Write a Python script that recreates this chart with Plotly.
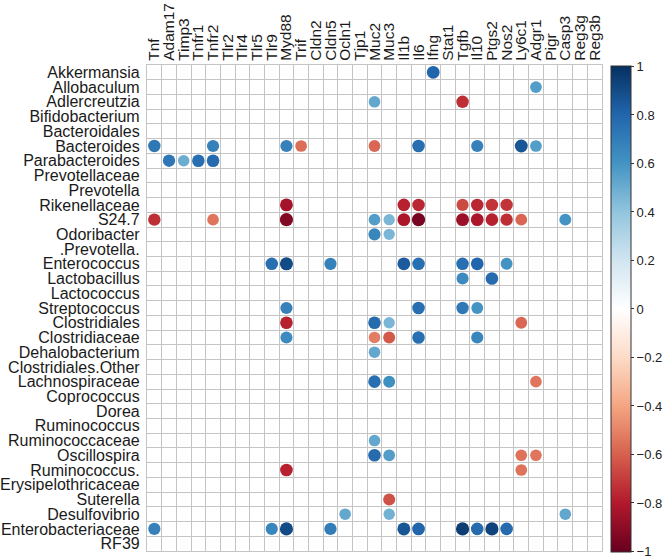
import plotly.graph_objects as go

genes = ["Tnf", "Adam17", "Timp3", "Tnfr1", "Tnfr2", "Tlr2", "Tlr4", "Tlr5", "Tlr9", "Myd88",
         "Trif", "Cldn2", "Cldn5", "Ocln1", "Tjp1", "Muc2", "Muc3", "Il1b", "Il6", "Ifng",
         "Stat1", "Tgfb", "Il10", "Ptgs2", "Nos2", "Ly6c1", "Adgr1", "Pigr", "Casp3", "Reg3g", "Reg3b"]

taxa = ["Akkermansia", "Allobaculum", "Adlercreutzia", "Bifidobacterium", "Bacteroidales",
        "Bacteroides", "Parabacteroides", "Prevotellaceae", "Prevotella", "Rikenellaceae",
        "S24.7", "Odoribacter", ".Prevotella.", "Enterococcus", "Lactobacillus", "Lactococcus",
        "Streptococcus", "Clostridiales", "Clostridiaceae", "Dehalobacterium",
        "Clostridiales.Other", "Lachnospiraceae", "Coprococcus", "Dorea", "Ruminococcus",
        "Ruminococcaceae", "Oscillospira", "Ruminococcus.", "Erysipelothricaceae", "Suterella",
        "Desulfovibrio", "Enterobacteriaceae", "RF39"]

# significant correlations: (taxon, gene, r)
dot_taxa = [
    "Akkermansia",
    "Allobaculum",
    "Adlercreutzia", "Adlercreutzia",
    "Bacteroides", "Bacteroides", "Bacteroides", "Bacteroides", "Bacteroides", "Bacteroides",
    "Bacteroides", "Bacteroides", "Bacteroides",
    "Parabacteroides", "Parabacteroides", "Parabacteroides", "Parabacteroides",
    "Rikenellaceae", "Rikenellaceae", "Rikenellaceae", "Rikenellaceae", "Rikenellaceae",
    "Rikenellaceae", "Rikenellaceae",
    "S24.7", "S24.7", "S24.7", "S24.7", "S24.7", "S24.7", "S24.7", "S24.7", "S24.7", "S24.7",
    "S24.7", "S24.7", "S24.7",
    "Odoribacter", "Odoribacter",
    "Enterococcus", "Enterococcus", "Enterococcus", "Enterococcus", "Enterococcus",
    "Enterococcus", "Enterococcus", "Enterococcus",
    "Lactobacillus", "Lactobacillus",
    "Streptococcus", "Streptococcus", "Streptococcus", "Streptococcus",
    "Clostridiales", "Clostridiales", "Clostridiales", "Clostridiales",
    "Clostridiaceae", "Clostridiaceae", "Clostridiaceae", "Clostridiaceae", "Clostridiaceae",
    "Dehalobacterium",
    "Lachnospiraceae", "Lachnospiraceae", "Lachnospiraceae",
    "Ruminococcaceae",
    "Oscillospira", "Oscillospira", "Oscillospira", "Oscillospira",
    "Ruminococcus.", "Ruminococcus.",
    "Suterella",
    "Desulfovibrio", "Desulfovibrio", "Desulfovibrio",
    "Enterobacteriaceae", "Enterobacteriaceae", "Enterobacteriaceae", "Enterobacteriaceae",
    "Enterobacteriaceae", "Enterobacteriaceae", "Enterobacteriaceae", "Enterobacteriaceae",
    "Enterobacteriaceae", "Enterobacteriaceae",
]
dot_genes = [
    "Ifng",
    "Adgr1",
    "Muc2", "Tgfb",
    "Tnf", "Tnfr2", "Myd88", "Trif", "Muc2", "Il6", "Il10", "Ly6c1", "Adgr1",
    "Adam17", "Timp3", "Tnfr1", "Tnfr2",
    "Myd88", "Il1b", "Il6", "Tgfb", "Il10", "Ptgs2", "Nos2",
    "Tnf", "Tnfr2", "Myd88", "Muc2", "Muc3", "Il1b", "Il6", "Tgfb", "Il10", "Ptgs2", "Nos2",
    "Ly6c1", "Casp3",
    "Muc2", "Muc3",
    "Tlr9", "Myd88", "Cldn5", "Il1b", "Il6", "Tgfb", "Il10", "Nos2",
    "Tgfb", "Ptgs2",
    "Myd88", "Il6", "Tgfb", "Il10",
    "Myd88", "Muc2", "Muc3", "Ly6c1",
    "Myd88", "Muc2", "Muc3", "Il6", "Il10",
    "Muc2",
    "Muc2", "Muc3", "Adgr1",
    "Muc2",
    "Muc2", "Muc3", "Ly6c1", "Adgr1",
    "Myd88", "Ly6c1",
    "Muc3",
    "Ocln1", "Muc3", "Casp3",
    "Tnf", "Tlr9", "Myd88", "Cldn5", "Il1b", "Il6", "Tgfb", "Il10", "Ptgs2", "Nos2",
]
dot_values = [
    0.8,
    0.56,
    0.52, -0.74,
    0.72, 0.68, 0.68, -0.56, -0.58, 0.76, 0.68, 0.86, 0.56,
    0.72, 0.5, 0.76, 0.78,
    -0.84, -0.78, -0.76, -0.66, -0.76, -0.72, -0.72,
    -0.74, -0.54, -0.93, 0.56, 0.46, -0.82, -0.96, -0.86, -0.82, -0.78, -0.74, -0.58, 0.6,
    0.66, 0.46,
    0.76, 0.9, 0.68, 0.84, 0.76, 0.76, 0.8, 0.6,
    0.64, 0.78,
    0.68, 0.76, 0.72, 0.6,
    -0.78, 0.78, 0.46, -0.58,
    0.64, -0.52, -0.62, 0.76, 0.66,
    0.52,
    0.76, 0.62, -0.54,
    0.52,
    0.78, 0.56, -0.55, -0.54,
    -0.78, -0.55,
    -0.64,
    0.52, 0.48, 0.52,
    0.68, 0.66, 0.9, 0.7, 0.86, 0.8, 0.95, 0.78, 0.93, 0.78,
]

bar_ticks = [-1, -0.8, -0.6, -0.4, -0.2, 0, 0.2, 0.4, 0.6, 0.8, 1]
bar_labels = ["\u22121", "\u22120.8", "\u22120.6", "\u22120.4", "\u22120.2", "0", "0.2", "0.4", "0.6", "0.8", "1"]

palette = ["#67001F", "#B2182B", "#D6604D", "#F4A582", "#FDDBC7", "#FFFFFF",
           "#D1E5F0", "#92C5DE", "#4393C3", "#2166AC", "#053061"]
colorscale = [[i / (len(palette) - 1), c] for i, c in enumerate(palette)]

font_family = "Liberation Sans, Arial, sans-serif"

fig = go.Figure()
fig.add_trace(go.Scatter(
    x=dot_genes, y=dot_taxa, mode="markers",
    marker=dict(
        size=[9.5 + 4 * abs(v) for v in dot_values],
        color=dot_values, cmin=-1.002, cmax=1.002, colorscale=colorscale,
        line=dict(width=0), opacity=1,
        colorbar=dict(
            x=1.0198, xanchor="left", xref="paper", xpad=0,
            y=0.498, yanchor="middle", ypad=0,
            lenmode="pixels", len=486,
            thickness=20,
            outlinecolor="#333333", outlinewidth=1,
            ticks="outside", ticklen=3, tickcolor="#333333",
            tickvals=bar_ticks, ticktext=bar_labels,
            ticklabeloverflow="allow",
            tickfont=dict(family=font_family, size=13, color="#222222"),
        ),
    ),
    hoverinfo="x+y+text", text=[f"{v:.2f}" for v in dot_values],
    showlegend=False,
))

fig.update_xaxes(
    type="category", categoryorder="array", categoryarray=genes,
    range=[-0.5, len(genes) - 0.5],
    tickmode="linear", tick0=0, dtick=1,
    side="top", tickangle=-90, tickson="boundaries", ticks="",
    showgrid=True, gridcolor="#c4c4c4", gridwidth=1.2,
    showline=True, linecolor="#c4c4c4", linewidth=1.2, mirror=True,
    tickfont=dict(family=font_family, size=15.5, color="#1a1a1a"),
    zeroline=False, fixedrange=True,
)
fig.update_yaxes(
    type="category", categoryorder="array", categoryarray=taxa,
    range=[len(taxa) - 0.5, -0.5],
    tickmode="linear", tick0=0, dtick=1,
    tickson="boundaries", ticks="", ticklabelstandoff=3,
    showgrid=True, gridcolor="#c4c4c4", gridwidth=1.2,
    showline=True, linecolor="#c4c4c4", linewidth=1.2, mirror=True,
    tickfont=dict(family=font_family, size=16, color="#1a1a1a"),
    zeroline=False, fixedrange=True,
)

fig.update_layout(
    width=664, height=557,
    margin=dict(l=147, r=62, t=65, b=6, autoexpand=False),
    plot_bgcolor="white", paper_bgcolor="white",
    font=dict(family=font_family),
)

fig.write_html("out.html", config={"displayModeBar": False},
               post_script="document.body.style.margin='0';")
